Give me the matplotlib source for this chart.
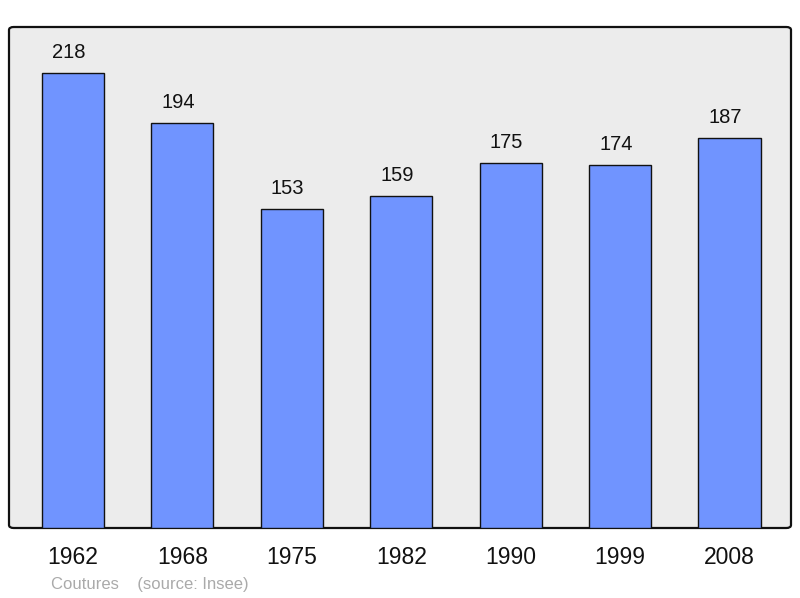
import matplotlib.pyplot as plt
from matplotlib.patches import FancyBboxPatch

years = ['1962', '1968', '1975', '1982', '1990', '1999', '2008']
population = [218, 194, 153, 159, 175, 174, 187]

plt.rcParams['font.family'] = ['Liberation Sans', 'DejaVu Sans']

fig = plt.figure(figsize=(8, 5.98), dpi=100)
ax = fig.add_axes([9 / 800, 70 / 598, 782 / 800, 501 / 598])
ax.set_xlim(-0.585, 6.562)
ax.set_ylim(0, 240)
ax.axis('off')

# rounded grey frame
frame = FancyBboxPatch((0, 0), 1, 1, boxstyle='round,pad=0,rounding_size=0.006',
                       transform=ax.transAxes, facecolor='#ececec',
                       edgecolor='#111111', linewidth=1.6, zorder=0, clip_on=False)
ax.add_patch(frame)

pos = list(range(len(years)))
ax.bar(pos, population, width=0.567, color='#7094ff', edgecolor='#111111',
       linewidth=1.0, zorder=2)

for x, v in zip(pos, population):
    ax.annotate(str(v), (x, v), xytext=(-3, 14.8), textcoords='offset points',
                ha='center', va='center', fontsize=14.5, color='#111111')

for x, y in zip(pos, years):
    ax.annotate(y, (x, 0), xytext=(0, -21), textcoords='offset points',
                ha='center', va='center', fontsize=16.5, color='#111111')

fig.text(51 / 800, 1 - 584 / 598, 'Coutures    (source: Insee)',
         ha='left', va='center', fontsize=12, color='#aaaaaa')

fig.savefig('out.png', dpi=100)
